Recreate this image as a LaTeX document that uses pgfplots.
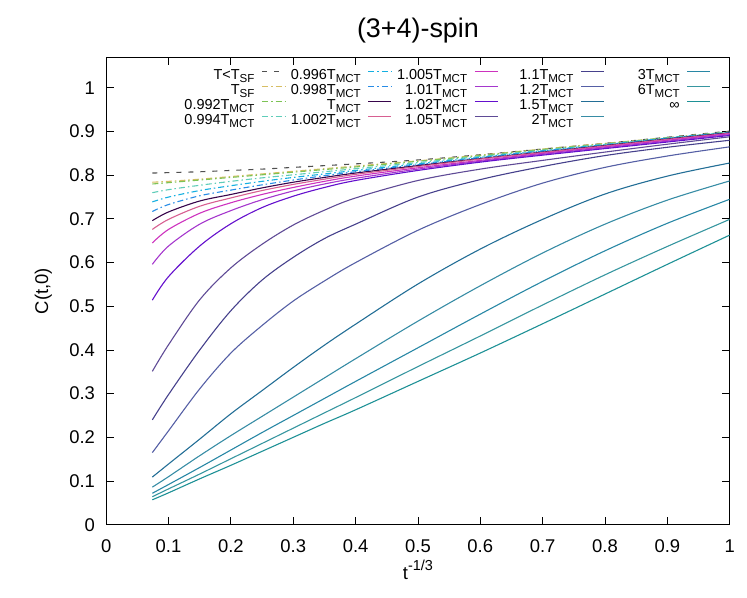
\documentclass[border=0pt]{standalone}
\usepackage{pgfplots}
\pgfplotsset{compat=1.18}
\usepackage{pgfplotstable}
\usepackage{fontspec}
\setmainfont{Liberation Sans}

\newcommand\lsub[1]{\raisebox{-3bp}{\fontsize{11.6}{12}\selectfont #1}}
\newcommand\lentry[1]{\makebox[68bp][r]{#1}}

\definecolor{cLT}{RGB}{80,80,80}
\definecolor{cSF}{RGB}{215,190,100}
\definecolor{c992}{RGB}{125,195,85}
\definecolor{c994}{RGB}{95,205,185}
\definecolor{c996}{RGB}{20,175,225}
\definecolor{c998}{RGB}{40,140,230}
\definecolor{cMCT}{RGB}{55,5,75}
\definecolor{c1002}{RGB}{215,95,145}
\definecolor{c1005}{RGB}{205,50,190}
\definecolor{c101}{RGB}{165,55,205}
\definecolor{c102}{RGB}{100,15,205}
\definecolor{c105}{RGB}{95,75,150}
\definecolor{c11}{RGB}{70,65,140}
\definecolor{c12}{RGB}{85,95,165}
\definecolor{c15}{RGB}{35,110,150}
\definecolor{c2}{RGB}{55,140,165}
\definecolor{c3}{RGB}{40,135,165}
\definecolor{c6}{RGB}{55,150,160}
\definecolor{cinf}{RGB}{30,145,150}

\pgfplotsset{
  cv/.style={line width=1.1bp, smooth, tension=0.55},
  dd/.style={cv, dash pattern=on 6bp off 3bp on 1.5bp off 3bp},
  sLT/.style={cLT, cv, dash pattern=on 5bp off 7bp},
  sSF/.style={cSF, dd}, s992/.style={c992, dd}, s994/.style={c994, dd},
  s996/.style={c996, dd}, s998/.style={c998, dd},
  sMCT/.style={cMCT, cv}, s1002/.style={c1002, cv}, s1005/.style={c1005, cv},
  s101/.style={c101, cv}, s102/.style={c102, cv}, s105/.style={c105, cv},
  s11/.style={c11, cv}, s12/.style={c12, cv}, s15/.style={c15, cv},
  s2/.style={c2, cv}, s3/.style={c3, cv}, s6/.style={c6, cv}, sinf/.style={cinf, cv},
}

\pgfplotstableread{
x     lt    sf    a992  a994  a996  a998  mct   b1002 b1005 b101  b102  b105  b11   b12   b15   b2    b3    b6    binf
0.074 0.805 0.784 0.780 0.760 0.739 0.717 0.696 0.676 0.645 0.596 0.514 0.351 0.240 0.165 0.109 0.086 0.072 0.064 0.057
0.1   0.806 0.786 0.783 0.767 0.750 0.733 0.716 0.699 0.676 0.638 0.568 0.412 0.298 0.215 0.139 0.110 0.092 0.082 0.073
0.15  0.808 0.791 0.789 0.777 0.765 0.753 0.741 0.729 0.713 0.688 0.638 0.515 0.400 0.311 0.196 0.158 0.131 0.116 0.105
0.2   0.811 0.797 0.795 0.786 0.776 0.766 0.756 0.748 0.737 0.719 0.689 0.588 0.490 0.393 0.254 0.204 0.171 0.151 0.136
0.25  0.814 0.803 0.801 0.794 0.786 0.778 0.771 0.765 0.756 0.744 0.726 0.642 0.560 0.456 0.307 0.248 0.211 0.186 0.168
0.3   0.818 0.809 0.807 0.801 0.795 0.789 0.784 0.779 0.772 0.764 0.752 0.686 0.612 0.512 0.360 0.292 0.250 0.221 0.200
0.35  0.822 0.815 0.813 0.808 0.803 0.799 0.795 0.791 0.786 0.780 0.772 0.720 0.655 0.558 0.411 0.336 0.289 0.256 0.232
0.4   0.826 0.821 0.819 0.815 0.811 0.808 0.805 0.802 0.798 0.793 0.788 0.748 0.688 0.600 0.459 0.380 0.328 0.291 0.263
0.5   0.835 0.833 0.832 0.829 0.826 0.824 0.822 0.820 0.817 0.814 0.811 0.788 0.750 0.674 0.551 0.466 0.405 0.362 0.328
0.6   0.847 0.846 0.845 0.843 0.841 0.840 0.838 0.837 0.834 0.832 0.830 0.814 0.790 0.733 0.631 0.547 0.482 0.432 0.393
0.7   0.860 0.860 0.859 0.857 0.856 0.855 0.853 0.852 0.850 0.848 0.846 0.834 0.820 0.782 0.699 0.622 0.557 0.503 0.460
0.8   0.873 0.873 0.872 0.871 0.870 0.869 0.868 0.867 0.865 0.863 0.861 0.853 0.845 0.818 0.757 0.688 0.627 0.572 0.528
0.9   0.887 0.886 0.886 0.885 0.885 0.884 0.883 0.882 0.880 0.878 0.876 0.871 0.864 0.844 0.798 0.743 0.690 0.637 0.596
1.0   0.901 0.899 0.899 0.899 0.898 0.898 0.897 0.896 0.895 0.893 0.891 0.888 0.880 0.865 0.828 0.787 0.745 0.699 0.663
}\data

\begin{document}
\begin{tikzpicture}
\begin{axis}[
  scale only axis, width=623.5bp, height=467.4bp,
  xmin=0, xmax=1, ymin=0, ymax=1.07,
  xtick={0,0.1,0.2,0.3,0.4,0.5,0.6,0.7,0.8,0.9,1},
  ytick={0,0.1,0.2,0.3,0.4,0.5,0.6,0.7,0.8,0.9,1},
  /pgf/number format/assume math mode=true,
  /pgf/number format/fixed,
  tick align=inside, xtick pos=both, ytick pos=both,
  major tick length=7.5bp,
  every tick/.style={black, line width=0.9bp},
  axis line style={line width=1bp},
  tick label style={font=\fontsize{18.5}{20}\selectfont},
  yticklabel style={inner sep=0pt, xshift=-11bp},
  xticklabel style={inner sep=0pt, yshift=-15bp},
  label style={font=\fontsize{18.5}{20}\selectfont},
  title={(3+4)-spin},
  title style={font=\fontsize{27}{30}\selectfont, at={(axis description cs:0.5,1.0295)}, anchor=base, inner sep=0pt},
  xlabel={t\raisebox{9bp}{\fontsize{14.5}{15}\selectfont -1/3}},
  xlabel style={at={(axis description cs:0.5,-0.1177)}, anchor=base, inner sep=0pt},
  ylabel={C(t,0)},
  ylabel style={at={(axis description cs:-0.093,0.5)}, anchor=base, inner sep=0pt},
  legend style={at={(axis description cs:1,1)}, anchor=north east, xshift=-18.7bp, yshift=-11.5bp,
    draw=none, fill=none, inner sep=0pt, outer sep=0pt, column sep=7bp, row sep=0pt,
    nodes={inner sep=0pt, outer sep=0pt, text height=10.7bp, text depth=4.3bp, font=\fontsize{14.5}{15}\selectfont}},
  legend cell align=right, legend plot pos=right, legend columns=5,
  legend image code/.code={\path (0bp,0bp) (23bp,0bp); \draw[#1, line width=1.3bp] (0bp,5bp) -- (23bp,5bp);},
]
\addplot[sLT, forget plot] table[x=x,y=lt]{\data};
\addplot[sSF, forget plot] table[x=x,y=sf]{\data};
\addplot[s992, forget plot] table[x=x,y=a992]{\data};
\addplot[s994, forget plot] table[x=x,y=a994]{\data};
\addplot[s996, forget plot] table[x=x,y=a996]{\data};
\addplot[s998, forget plot] table[x=x,y=a998]{\data};
\addplot[sMCT, forget plot] table[x=x,y=mct]{\data};
\addplot[s1002, forget plot] table[x=x,y=b1002]{\data};
\addplot[s1005, forget plot] table[x=x,y=b1005]{\data};
\addplot[s101, forget plot] table[x=x,y=b101]{\data};
\addplot[s102, forget plot] table[x=x,y=b102]{\data};
\addplot[s105, forget plot] table[x=x,y=b105]{\data};
\addplot[s11, forget plot] table[x=x,y=b11]{\data};
\addplot[s12, forget plot] table[x=x,y=b12]{\data};
\addplot[s15, forget plot] table[x=x,y=b15]{\data};
\addplot[s2, forget plot] table[x=x,y=b2]{\data};
\addplot[s3, forget plot] table[x=x,y=b3]{\data};
\addplot[s6, forget plot] table[x=x,y=b6]{\data};
\addplot[sinf, forget plot] table[x=x,y=binf]{\data};
% legend, row by row
\addlegendimage{sLT}\addlegendentry{\lentry{T<T\lsub{SF}}}
\addlegendimage{s996}\addlegendentry{\lentry{0.996T\lsub{MCT}}}
\addlegendimage{s1005}\addlegendentry{\lentry{1.005T\lsub{MCT}}}
\addlegendimage{s11}\addlegendentry{\lentry{1.1T\lsub{MCT}}}
\addlegendimage{s3}\addlegendentry{\lentry{3T\lsub{MCT}}}
\addlegendimage{sSF}\addlegendentry{\lentry{T\lsub{SF}}}
\addlegendimage{s998}\addlegendentry{\lentry{0.998T\lsub{MCT}}}
\addlegendimage{s101}\addlegendentry{\lentry{1.01T\lsub{MCT}}}
\addlegendimage{s12}\addlegendentry{\lentry{1.2T\lsub{MCT}}}
\addlegendimage{s6}\addlegendentry{\lentry{6T\lsub{MCT}}}
\addlegendimage{s992}\addlegendentry{\lentry{0.992T\lsub{MCT}}}
\addlegendimage{sMCT}\addlegendentry{\lentry{T\lsub{MCT}}}
\addlegendimage{s102}\addlegendentry{\lentry{1.02T\lsub{MCT}}}
\addlegendimage{s15}\addlegendentry{\lentry{1.5T\lsub{MCT}}}
\addlegendimage{sinf}\addlegendentry{\lentry{∞}}
\addlegendimage{s994}\addlegendentry{\lentry{0.994T\lsub{MCT}}}
\addlegendimage{s1002}\addlegendentry{\lentry{1.002T\lsub{MCT}}}
\addlegendimage{s105}\addlegendentry{\lentry{1.05T\lsub{MCT}}}
\addlegendimage{s2}\addlegendentry{\lentry{2T\lsub{MCT}}}
\end{axis}
\pgfresetboundingbox
\path (current axis.south west) ++(-106.2bp,-73.3bp) rectangle ++(747bp,598bp);
\end{tikzpicture}
\end{document}
